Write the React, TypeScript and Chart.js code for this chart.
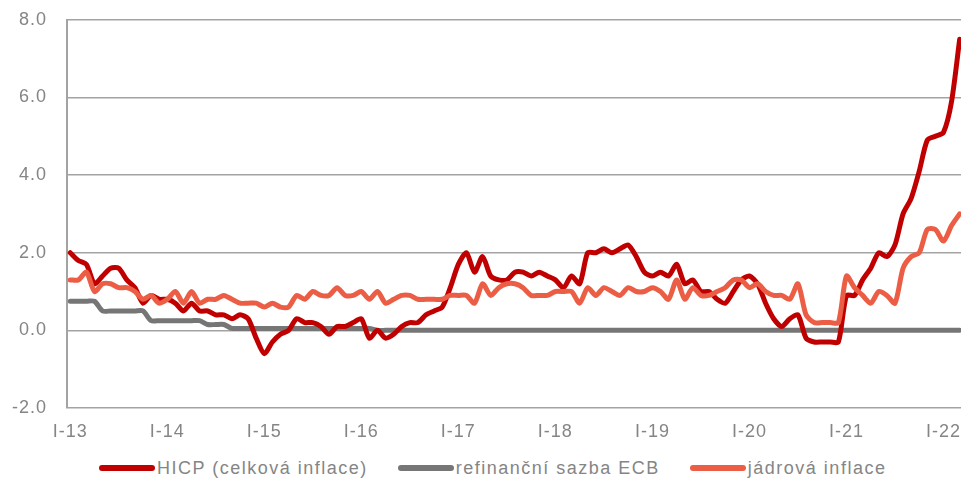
import React, { useEffect, useRef } from 'react';
import { Chart, registerables } from 'chart.js';

Chart.register(...registerables);

// Monthly year-on-year rates, January 2013 – March 2022 (%)
const hicp = [
  2.0, 1.8, 1.7, 1.2, 1.4, 1.6, 1.6, 1.3, 1.1, 0.7, 0.9, 0.8,
  0.8, 0.7, 0.5, 0.7, 0.5, 0.5, 0.4, 0.4, 0.3, 0.4, 0.3, -0.2,
  -0.6, -0.3, -0.1, 0.0, 0.3, 0.2, 0.2, 0.1, -0.1, 0.1, 0.1, 0.2,
  0.3, -0.2, 0.0, -0.2, -0.1, 0.1, 0.2, 0.2, 0.4, 0.5, 0.6, 1.1,
  1.7, 2.0, 1.5, 1.9, 1.4, 1.3, 1.3, 1.5, 1.5, 1.4, 1.5, 1.4,
  1.3, 1.1, 1.4, 1.2, 2.0, 2.0, 2.1, 2.0, 2.1, 2.2, 1.9, 1.5,
  1.4, 1.5, 1.4, 1.7, 1.2, 1.3, 1.0, 1.0, 0.8, 0.7, 1.0, 1.3,
  1.4, 1.2, 0.7, 0.3, 0.1, 0.3, 0.4, -0.2, -0.3, -0.3, -0.3, -0.3,
  0.9, 0.9, 1.3, 1.6, 2.0, 1.9, 2.2, 3.0, 3.4, 4.1, 4.9, 5.0,
  5.1, 5.9, 7.5,
];

const ecbRate = [
  0.75, 0.75, 0.75, 0.75, 0.5, 0.5, 0.5, 0.5, 0.5, 0.5, 0.25, 0.25,
  0.25, 0.25, 0.25, 0.25, 0.25, 0.15, 0.15, 0.15, 0.05, 0.05, 0.05, 0.05,
  0.05, 0.05, 0.05, 0.05, 0.05, 0.05, 0.05, 0.05, 0.05, 0.05, 0.05, 0.05,
  0.05, 0.05, 0, 0, 0, 0, 0, 0, 0, 0, 0, 0,
  0, 0, 0, 0, 0, 0, 0, 0, 0, 0, 0, 0,
  0, 0, 0, 0, 0, 0, 0, 0, 0, 0, 0, 0,
  0, 0, 0, 0, 0, 0, 0, 0, 0, 0, 0, 0,
  0, 0, 0, 0, 0, 0, 0, 0, 0, 0, 0, 0,
  0, 0, 0, 0, 0, 0, 0, 0, 0, 0, 0, 0,
  0, 0, 0,
];

const coreInflation = [
  1.3, 1.3, 1.5, 1.0, 1.2, 1.2, 1.1, 1.1, 1.0, 0.8, 0.9, 0.7,
  0.8, 1.0, 0.7, 1.0, 0.7, 0.8, 0.8, 0.9, 0.8, 0.7, 0.7, 0.7,
  0.6, 0.7, 0.6, 0.6, 0.9, 0.8, 1.0, 0.9, 0.9, 1.1, 0.9, 0.9,
  1.0, 0.8, 1.0, 0.7, 0.8, 0.9, 0.9, 0.8, 0.8, 0.8, 0.8, 0.9,
  0.9, 0.9, 0.7, 1.2, 0.9, 1.1, 1.2, 1.2, 1.1, 0.9, 0.9, 0.9,
  1.0, 1.0, 1.0, 0.7, 1.1, 0.9, 1.1, 1.0, 0.9, 1.1, 1.0, 1.0,
  1.1, 1.0, 0.8, 1.3, 0.8, 1.1, 0.9, 0.9, 1.0, 1.1, 1.3, 1.3,
  1.1, 1.2, 1.0, 0.9, 0.9, 0.8, 1.2, 0.4, 0.2, 0.2, 0.2, 0.2,
  1.4, 1.1, 0.9, 0.7, 1.0, 0.9, 0.7, 1.6, 1.9, 2.0, 2.6, 2.6,
  2.3, 2.7, 3.0,
];

const yearLabels = ['I-13', 'I-14', 'I-15', 'I-16', 'I-17', 'I-18', 'I-19', 'I-20', 'I-21', 'I-22'];
const yTicks = [-2, 0, 2, 4, 6, 8];

const seriesNames = ['HICP (celková inflace)', 'refinanční sazba ECB', 'jádrová inflace'];
const RED = '#c00000';
const GREY = '#767676';
const ORANGE = '#eb5e45';
const seriesColors = [RED, GREY, ORANGE];

const TEXT = '#858585';
const GRID = '#a3a3a3';
const FONT_FAMILY = '"Liberation Sans", Arial, Helvetica, sans-serif';

const toPoints = (arr: number[]) => arr.map((y, i) => ({ x: i, y }));

// slightly wider letter spacing for the axis labels
const spacingPlugin = {
  id: 'letterSpacing',
  beforeDraw(chart: any) {
    chart.ctx.letterSpacing = '1px';
  },
  afterDraw(chart: any) {
    chart.ctx.letterSpacing = '0px';
  },
};

export default function App() {
  const canvasRef = useRef<HTMLCanvasElement>(null);

  useEffect(() => {
    if (!canvasRef.current) return;
    const tickFont = { family: FONT_FAMILY, size: 18 };
    const chart = new Chart(canvasRef.current, {
      type: 'line',
      data: {
        datasets: [
          { label: seriesNames[0], data: toPoints(hicp), borderColor: RED, backgroundColor: RED, order: 1 },
          { label: seriesNames[1], data: toPoints(ecbRate), borderColor: GREY, backgroundColor: GREY, order: 2 },
          { label: seriesNames[2], data: toPoints(coreInflation), borderColor: ORANGE, backgroundColor: ORANGE, order: 0 },
        ],
      },
      options: {
        responsive: false,
        animation: false,
        layout: { padding: { top: 8, right: 0, bottom: 0, left: 0 } },
        plugins: { legend: { display: false }, tooltip: { enabled: false } },
        elements: {
          point: { radius: 0 },
          line: { borderWidth: 5, tension: 0.25, borderCapStyle: 'round', borderJoinStyle: 'round' },
        },
        scales: {
          x: {
            type: 'linear',
            min: -0.4,
            max: 110.4,
            afterBuildTicks: (scale: any) => {
              scale.ticks = yearLabels.map((_, k) => ({ value: k * 12 }));
            },
            afterFit: (scale: any) => {
              scale.height = 37;
            },
            grid: { display: false, drawTicks: false },
            border: { display: false },
            ticks: {
              autoSkip: false,
              maxRotation: 0,
              padding: 13,
              color: TEXT,
              font: tickFont,
              callback: (v: any) => yearLabels[Math.round(Number(v) / 12)] ?? '',
            },
          },
          y: {
            min: -2,
            max: 8,
            afterBuildTicks: (scale: any) => {
              scale.ticks = yTicks.map((value) => ({ value }));
            },
            afterFit: (scale: any) => {
              scale.width = 67;
            },
            grid: { color: GRID, lineWidth: 1.5, drawTicks: false },
            border: { display: true, color: GRID, width: 2 },
            ticks: {
              padding: 20,
              color: TEXT,
              font: tickFont,
              callback: (v: any) => Number(v).toFixed(1),
            },
          },
        },
      },
      plugins: [spacingPlugin],
    } as any);
    return () => chart.destroy();
  }, []);

  return (
    <div
      style={{
        position: 'fixed',
        left: 0,
        top: 0,
        width: 961,
        height: 483,
        background: '#fff',
        overflow: 'hidden',
      }}
    >
      <canvas
        ref={canvasRef}
        width={972}
        height={456}
        style={{ position: 'absolute', left: 0, top: -11, display: 'block', width: 972, height: 456 }}
      />
      <div
        style={{
          position: 'absolute',
          left: 99,
          top: 456,
          height: 24,
          display: 'flex',
          alignItems: 'center',
          fontFamily: FONT_FAMILY,
          fontSize: 18,
          letterSpacing: '1.5px',
          color: TEXT,
          whiteSpace: 'nowrap',
        }}
      >
        {seriesNames.map((name, i) => (
          <div key={name} style={{ display: 'flex', alignItems: 'center', marginRight: i < seriesNames.length - 1 ? 30 : 0 }}>
            <span
              style={{
                display: 'inline-block',
                width: 56,
                height: 6,
                borderRadius: 3,
                background: seriesColors[i],
                marginRight: 2,
              }}
            />
            <span>{name}</span>
          </div>
        ))}
      </div>
    </div>
  );
}
